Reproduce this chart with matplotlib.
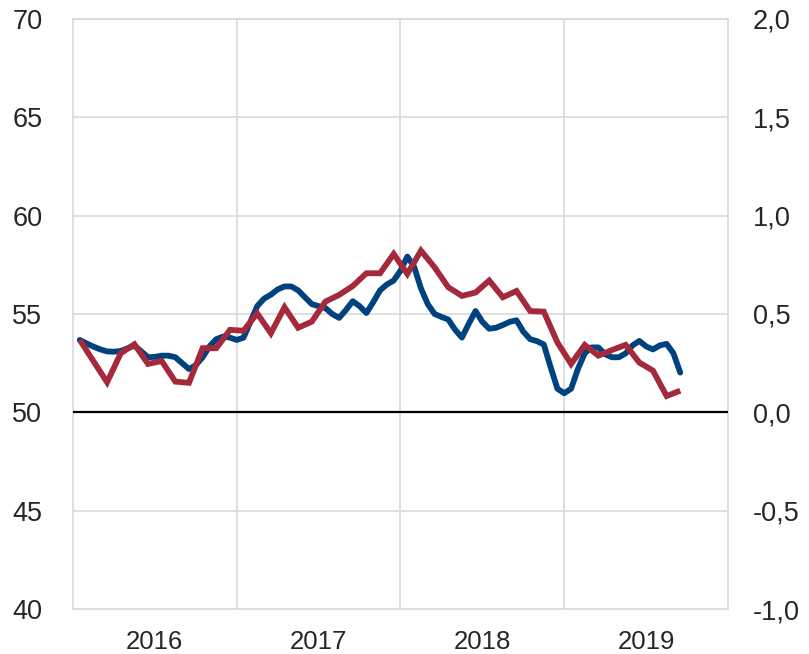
import numpy as np
import matplotlib.pyplot as plt
from matplotlib.ticker import FuncFormatter

# monthly series (Jan 2016 - Sep 2019)
red_vals = [53.68, 52.6, 51.53, 53.0, 53.46, 52.46, 52.61, 51.56, 51.5, 53.26,
            53.26, 54.19, 54.15, 55.03, 54.02, 55.34, 54.3, 54.61, 55.63, 55.97,
            56.42, 57.07, 57.07, 58.05, 57.04, 58.22, 57.37, 56.36, 55.92, 56.09,
            56.7, 55.85, 56.17, 55.15, 55.12, 53.55, 52.46, 53.43, 52.88, 53.17,
            53.43, 52.53, 52.12, 50.83, 51.1]

# semi-monthly series (Jan 2016 - Sep 2019)
blue_vals = [53.68, 53.5, 53.34, 53.2, 53.1, 53.08, 53.12, 53.25, 53.4, 53.1,
             52.8, 52.82, 52.88, 52.88, 52.8, 52.5, 52.2, 52.4, 52.8, 53.35,
             53.72, 53.85, 53.8, 53.68, 53.8, 54.6, 55.4, 55.78, 55.98, 56.25,
             56.4, 56.4, 56.2, 55.85, 55.5, 55.4, 55.3, 55.0, 54.8, 55.2,
             55.65, 55.4, 55.05, 55.6, 56.2, 56.5, 56.7, 57.2, 57.92, 57.4,
             56.3, 55.5, 55.0, 54.85, 54.72, 54.2, 53.8, 54.5, 55.15, 54.6,
             54.25, 54.3, 54.44, 54.6, 54.68, 54.1, 53.72, 53.62, 53.45, 52.3,
             51.2, 50.97, 51.2, 52.2, 53.0, 53.3, 53.3, 52.95, 52.8, 52.8,
             53.0, 53.4, 53.63, 53.35, 53.2, 53.4, 53.48, 53.0, 52.02]

years = [2016, 2017, 2018, 2019]
left_ticks = [40, 45, 50, 55, 60, 65, 70]
right_ticks = [-1.0, -0.5, 0.0, 0.5, 1.0, 1.5, 2.0]

BLUE = '#00427f'
RED = '#a3293b'
GRID = '#d9d9d9'
TXT = '#262626'

plt.rcParams['font.family'] = ['Liberation Sans', 'DejaVu Sans']

red_x = 2016 + (np.arange(len(red_vals)) + 0.5) / 12
blue_x = 2016 + (np.arange(len(blue_vals)) / 2 + 0.5) / 12

fig = plt.figure(figsize=(8.09, 6.54), dpi=100)
ax = fig.add_axes([0.0902, 0.0688, 0.8097, 0.9022])

ax.set_xlim(2016, 2020)
ax.set_ylim(40, 70)
ax.set_yticks(left_ticks)
ax.set_xticks([2017, 2018, 2019])
ax.set_xticklabels([])
ax.grid(True, color=GRID, linewidth=1.2)
ax.set_axisbelow(True)
for s in ax.spines.values():
    s.set_color(GRID)
    s.set_linewidth(1.2)
ax.tick_params(length=0, labelsize=19.5, colors=TXT, pad=22)

# year labels centred in each year
for y in years:
    ax.text(y + 0.5, -0.036, str(y), transform=ax.get_xaxis_transform(),
            ha='center', va='top', fontsize=18.5, color=TXT)

ax.axhline(50, color='black', linewidth=1.6, zorder=3)
ax.plot(blue_x, blue_vals, color=BLUE, linewidth=4.2, solid_capstyle='round',
        solid_joinstyle='round', zorder=4)
ax.plot(red_x, red_vals, color=RED, linewidth=4.2, solid_capstyle='butt',
        solid_joinstyle='miter', zorder=5)

ax2 = ax.twinx()
ax2.set_ylim(-1.0, 2.0)
ax2.set_yticks(right_ticks)
ax2.yaxis.set_major_formatter(FuncFormatter(lambda v, p: f'{v:.1f}'.replace('.', ',')))
ax2.tick_params(length=0, labelsize=19.5, colors=TXT, pad=18)
for s in ax2.spines.values():
    s.set_visible(False)

fig.savefig('out.png', dpi=100)
